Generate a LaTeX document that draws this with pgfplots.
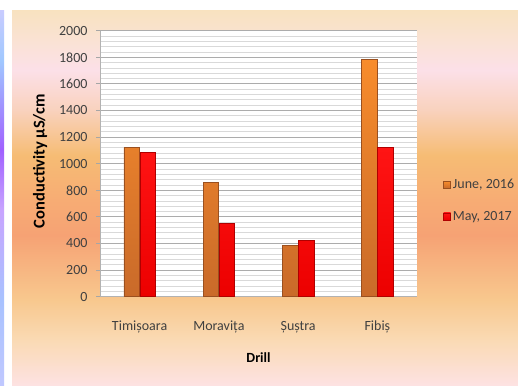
\documentclass[border=0pt]{standalone}
\usepackage{fontspec}
\setmainfont{Carlito}
\usepackage{pgfplots}
\pgfplotsset{compat=1.18}

% colours of the chart area background (bottom to top)
\definecolor{bgA}{HTML}{FDE2E2}
\definecolor{bgB}{HTML}{FADAB4}
\definecolor{bgC}{HTML}{F8C88E}
\definecolor{bgD}{HTML}{F6A274}
\definecolor{bgE}{HTML}{F7AC74}
\definecolor{bgF}{HTML}{F6BC74}
\definecolor{bgG}{HTML}{F9D2BE}
\definecolor{bgH}{HTML}{FCE0E8}
\definecolor{bgI}{HTML}{FAE2D4}
\definecolor{bgJ}{HTML}{F8E2C0}
% colours of the slim strip on the left
\definecolor{stA}{HTML}{C0C8FF}
\definecolor{stB}{HTML}{A8C2FF}
\definecolor{stC}{HTML}{C8A4FF}
\definecolor{stD}{HTML}{A060FF}
\definecolor{stE}{HTML}{A0C8FF}
\definecolor{stF}{HTML}{C8CCFF}
% bar colours
\definecolor{juneTop}{HTML}{F88C2C}
\definecolor{juneBot}{HTML}{C96A2A}
\definecolor{juneEdge}{HTML}{9A5020}
\definecolor{mayTop}{HTML}{FF1414}
\definecolor{mayBot}{HTML}{EC0000}
\definecolor{mayEdge}{HTML}{B00000}
\definecolor{tickgray}{HTML}{404040}

\pgfdeclareverticalshading{chartbg}{100bp}{%
  color(0bp)=(bgA); color(25bp)=(bgA); color(31bp)=(bgB);
  color(36.4bp)=(bgC); color(45bp)=(bgD); color(49.7bp)=(bgE);
  color(55.7bp)=(bgF); color(61.8bp)=(bgG); color(67.1bp)=(bgH);
  color(71bp)=(bgI); color(75bp)=(bgJ); color(100bp)=(bgJ)}
\pgfdeclareverticalshading{leftstrip}{100bp}{%
  color(0bp)=(stA); color(25bp)=(stA); color(36.4bp)=(stB);
  color(48.4bp)=(stC); color(56.4bp)=(stD); color(68.4bp)=(stE);
  color(75bp)=(stF); color(100bp)=(stF)}

\pgfplotstableread{
x june may
0 1120 1085
1 860  552
2 383  424
3 1785 1120
}\conductivity

\begin{document}
\begin{tikzpicture}[font=\fontsize{14pt}{16pt}\selectfont]
\path[use as bounding box] (0,0) rectangle (518pt,385pt);
\fill[white] (0,0) rectangle (518pt,385pt);
\shade[shading=leftstrip] (0,0) rectangle (4pt,374pt);
\shade[shading=chartbg] (12pt,0) rectangle (518pt,374pt);

\begin{axis}[
  at={(100pt,88.3pt)}, anchor=south west,
  scale only axis, width=317pt, height=266pt,
  xmin=-0.5, xmax=3.5, ymin=0, ymax=2000,
  axis background/.style={fill=white},
  axis lines=left,
  axis line style={-, draw=gray!60, line width=0.8pt},
  ytick={0,200,...,2000},
  minor y tick num=4,
  ymajorgrids, yminorgrids,
  major grid style={draw=gray!65, line width=0.8pt},
  minor grid style={draw=gray!30, line width=0.8pt},
  tick align=outside,
  major tick length=4pt, minor tick length=0pt,
  ytick style={draw=gray!70, line width=0.8pt},
  xtick={0,1,2,3},
  xticklabels={Timișoara, Moravița, Șuștra, Fibiș},
  xtick style={draw=none},
  /pgf/number format/1000 sep={},
  /pgf/number format/assume math mode=true,
  tick label style={font=\fontsize{14pt}{16pt}\selectfont, text=tickgray},
  xticklabel style={yshift=-17pt},
  yticklabel style={xshift=-5pt},
  ybar=0.6pt, bar width=15.5pt,
  xlabel={\textbf{Drill}},
  ylabel={\fontsize{16.5pt}{18pt}\selectfont\textbf{Conductivity µS/cm}},
  xlabel style={at={(axis description cs:0.5,-0.23)}, anchor=center},
  ylabel style={at={(axis description cs:-0.189,0.51)}, anchor=center},
  legend style={at={(axis description cs:1.073,0.362)}, anchor=west,
    draw=none, fill=none, text=tickgray, row sep=17pt,
    font=\fontsize{14pt}{16pt}\selectfont},
  legend cell align=left,
]
\addplot[ybar, top color=juneTop, bottom color=juneBot, draw=juneEdge, line width=0.6pt,
  legend image code/.code={\draw[top color=juneTop, bottom color=juneBot, draw=juneEdge, line width=0.6pt] (0pt,-3.5pt) rectangle (7pt,3.5pt);}]
  table[x=x, y=june] {\conductivity};
\addlegendentry{June, 2016}
\addplot[ybar, top color=mayTop, bottom color=mayBot, draw=mayEdge, line width=0.6pt,
  legend image code/.code={\draw[top color=mayTop, bottom color=mayBot, draw=mayEdge, line width=0.6pt] (0pt,-3.5pt) rectangle (7pt,3.5pt);}]
  table[x=x, y=may] {\conductivity};
\addlegendentry{May, 2017}
\end{axis}
\end{tikzpicture}
\end{document}
